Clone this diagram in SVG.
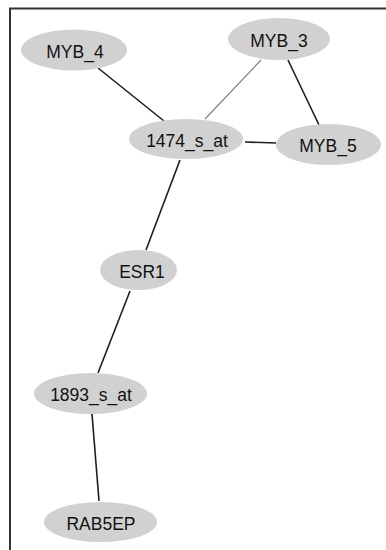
<svg xmlns="http://www.w3.org/2000/svg" width="386" height="550" viewBox="0 0 386 550">
  <style>
    .node ellipse { fill: #d1d1d1; stroke: none; }
    .node text { font-family: "Liberation Sans", Arial, sans-serif; font-size: 17.5px; fill: #111; text-anchor: middle; }
    .edge { stroke: #1e1e1e; stroke-width: 1.6; fill: none; }
    .edge.light { stroke: #808080; stroke-width: 1.2; }
    .frame { stroke: #333; stroke-width: 2; fill: none; }
  </style>
  <rect width="386" height="550" fill="#fff"/>
  <!-- open frame: top and left rules -->
  <path class="frame" d="M10 550 V8.5 H386"/>

  <g id="connectors">
    <line class="edge" x1="98" y1="68" x2="164" y2="121"/>
    <line class="edge light" x1="261" y1="60" x2="205" y2="119"/>
    <line class="edge" x1="288" y1="60" x2="319" y2="125"/>
    <line class="edge" x1="245" y1="142" x2="276" y2="143"/>
    <line class="edge" x1="180" y1="160" x2="146" y2="250"/>
    <line class="edge" x1="130" y1="291" x2="98" y2="373"/>
    <line class="edge" x1="92" y1="414" x2="99" y2="501"/>
  </g>

  <g id="MYB_4" class="node">
    <ellipse cx="74" cy="50" rx="53" ry="20.5"/>
    <text x="75" y="57.5">MYB_4</text>
  </g>
  <g id="MYB_3" class="node">
    <ellipse cx="279" cy="39" rx="51" ry="21"/>
    <text x="279" y="46.5">MYB_3</text>
  </g>
  <g id="n1474_s_at" class="node">
    <ellipse cx="186" cy="139" rx="57" ry="20"/>
    <text x="187" y="147">1474_s_at</text>
  </g>
  <g id="MYB_5" class="node">
    <ellipse cx="328.5" cy="144.5" rx="52.5" ry="20.5"/>
    <text x="328" y="152">MYB_5</text>
  </g>
  <g id="ESR1" class="node">
    <ellipse cx="138.5" cy="270" rx="38.5" ry="20"/>
    <text x="142" y="277.5">ESR1</text>
  </g>
  <g id="n1893_s_at" class="node">
    <ellipse cx="90.5" cy="393.5" rx="56.5" ry="20.5"/>
    <text x="91" y="401">1893_s_at</text>
  </g>
  <g id="RAB5EP" class="node">
    <ellipse cx="100.5" cy="522" rx="56.5" ry="20"/>
    <text x="101" y="529.5">RAB5EP</text>
  </g>
</svg>
